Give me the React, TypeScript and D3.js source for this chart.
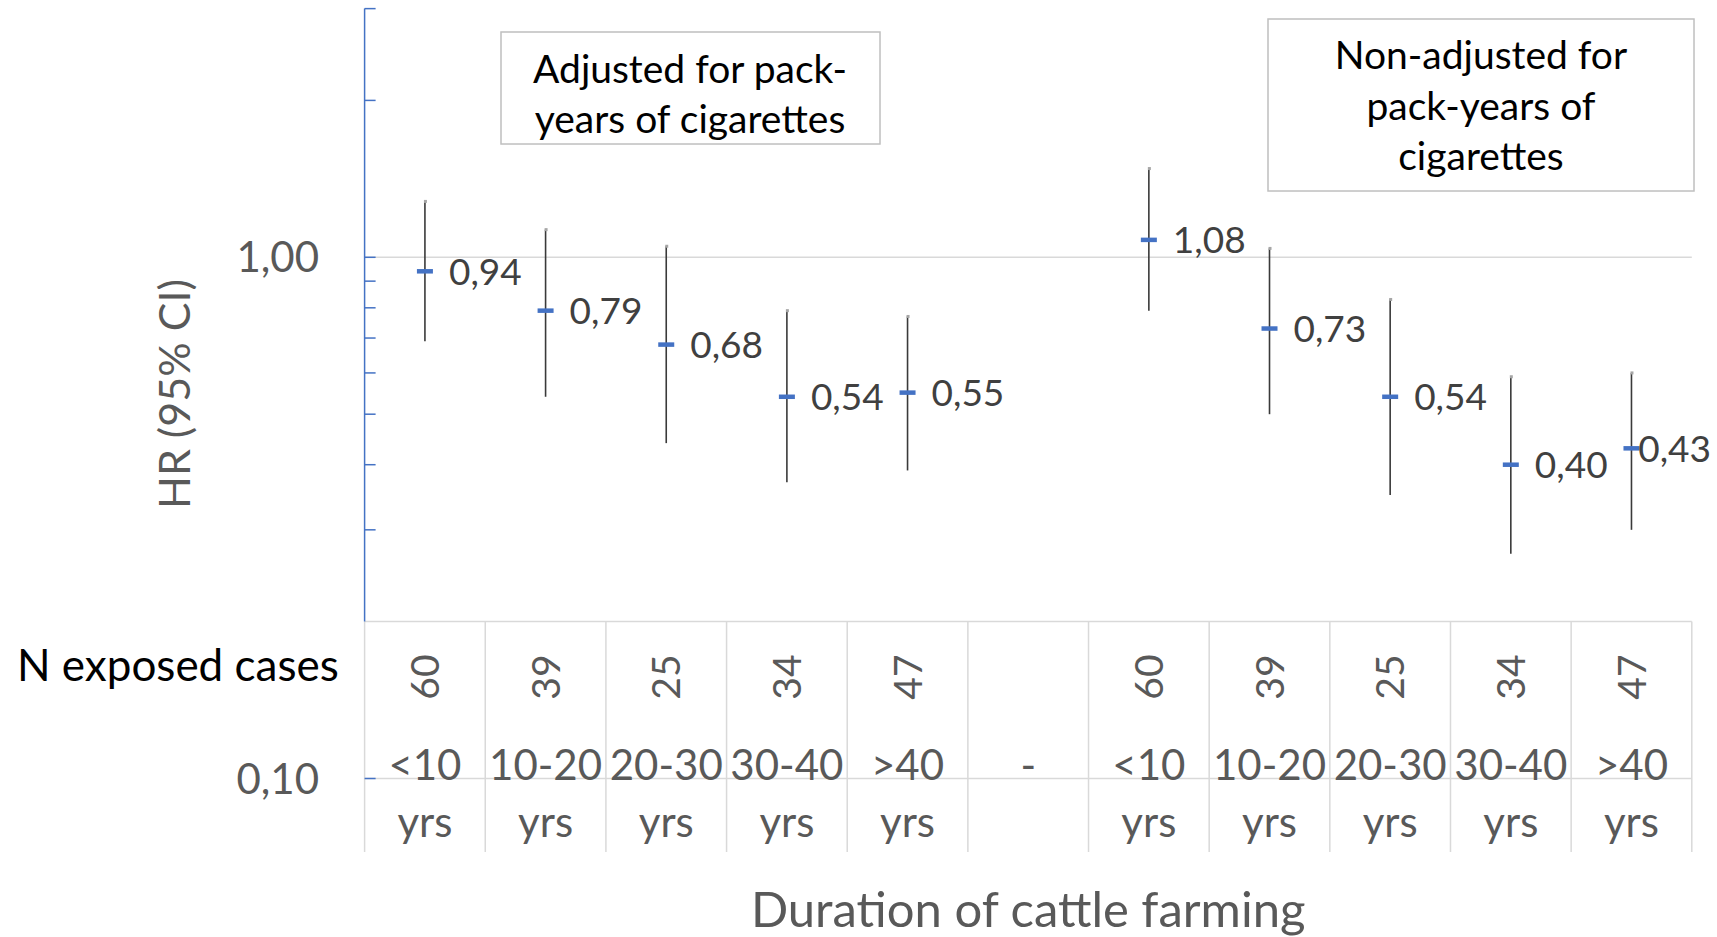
import React, { useEffect, useRef } from "react";
import * as d3 from "d3";

// categories (two-line labels) and N exposed cases per column
const topLabels = ["<10", "10-20", "20-30", "30-40", ">40", "-", "<10", "10-20", "20-30", "30-40", ">40"];
const bottomLabels = ["yrs", "yrs", "yrs", "yrs", "yrs", "", "yrs", "yrs", "yrs", "yrs", "yrs"];
const nCases = ["60", "39", "25", "34", "47", "", "60", "39", "25", "34", "47"];

// hazard ratios with 95% CI (null = spacer column)
const hr = [0.94, 0.79, 0.68, 0.54, 0.55, null, 1.08, 0.73, 0.54, 0.4, 0.43];
const ciLow = [0.69, 0.54, 0.44, 0.37, 0.39, null, 0.79, 0.5, 0.35, 0.27, 0.3];
const ciHigh = [1.28, 1.13, 1.05, 0.79, 0.77, null, 1.48, 1.04, 0.83, 0.59, 0.6];

const majorTicks = [1, 0.1];
const minorTicks = [3, 2, 1, 0.9, 0.8, 0.7, 0.6, 0.5, 0.4, 0.3, 0.1];

const boxAdjusted = ["Adjusted for pack-", "years of cigarettes"];
const boxNonAdjusted = ["Non-adjusted for", "pack-years of", "cigarettes"];

const W = 1717;
const H = 937;
const FONT = "Lato, 'Open Sans', sans-serif";

const commaFmt = d3.formatLocale({ decimal: ",", thousands: ".", grouping: [3], currency: ["", ""] }).format(".2f");

const App: React.FC = () => {
  const svgRef = useRef<SVGSVGElement>(null);

  useEffect(() => {
    document.body.style.margin = "0";
    if (!svgRef.current) return;
    const svg = d3.select(svgRef.current);
    svg.selectAll("*").remove();

    const left = 364.6;
    const right = 1691.8;

    const x = d3.scaleBand<number>()
      .domain(d3.range(topLabels.length))
      .range([left, right])
      .padding(0);
    const cx = (i: number) => (x(i) ?? 0) + x.bandwidth() / 2;

    const y = d3.scaleLog().domain([0.1, 1]).range([778.5, 257.3]);
    const tableTop = y(0.2);
    const tableBottom = 852;

    const grid = "#d9d9d9";
    const axisBlue = "#4472c4";
    const labelGray = "#595959";

    // gridline at 1,00
    svg.append("line")
      .attr("x1", left).attr("x2", right)
      .attr("y1", y(1)).attr("y2", y(1))
      .attr("stroke", grid).attr("stroke-width", 1.5);

    // table lines
    svg.append("line")
      .attr("x1", left).attr("x2", right)
      .attr("y1", tableTop).attr("y2", tableTop)
      .attr("stroke", grid).attr("stroke-width", 1.5);
    svg.append("line")
      .attr("x1", left).attr("x2", right)
      .attr("y1", y(0.1)).attr("y2", y(0.1))
      .attr("stroke", grid).attr("stroke-width", 1.5);
    const bounds = d3.range(topLabels.length + 1).map(i => left + i * x.bandwidth());
    svg.selectAll("line.vb")
      .data(bounds)
      .join("line")
      .attr("class", "vb")
      .attr("x1", d => d).attr("x2", d => d)
      .attr("y1", tableTop).attr("y2", tableBottom)
      .attr("stroke", grid).attr("stroke-width", 1.5);

    // value axis
    svg.append("line")
      .attr("x1", left).attr("x2", left)
      .attr("y1", y(3)).attr("y2", tableTop)
      .attr("stroke", axisBlue).attr("stroke-width", 1.5);
    svg.selectAll("line.mt")
      .data(minorTicks)
      .join("line")
      .attr("class", "mt")
      .attr("x1", left).attr("x2", left + 11)
      .attr("y1", d => y(d)).attr("y2", d => y(d))
      .attr("stroke", axisBlue).attr("stroke-width", 1.5);

    svg.selectAll("text.yt")
      .data(majorTicks)
      .join("text")
      .attr("class", "yt")
      .attr("x", 319)
      .attr("y", d => y(d) + 15)
      .attr("text-anchor", "end")
      .attr("fill", labelGray)
      .style("font-family", FONT)
      .style("font-size", "42px")
      .text(d => commaFmt(d));

    // axis titles
    svg.append("text")
      .attr("transform", "translate(175,394) rotate(-90)")
      .attr("text-anchor", "middle")
      .attr("dy", "0.35em")
      .attr("fill", labelGray)
      .style("font-family", FONT)
      .style("font-size", "43px")
      .text("HR (95% CI)");

    svg.append("text")
      .attr("x", (left + right) / 2)
      .attr("y", 927)
      .attr("text-anchor", "middle")
      .attr("fill", labelGray)
      .style("font-family", FONT)
      .style("font-size", "49px")
      .text("Duration of cattle farming");

    svg.append("text")
      .attr("x", 17)
      .attr("y", 681)
      .attr("fill", "#000")
      .style("font-family", FONT)
      .style("font-size", "44px")
      .text("N exposed cases");

    // table content
    svg.selectAll("text.n")
      .data(nCases)
      .join("text")
      .attr("class", "n")
      .attr("transform", (_, i) => `translate(${cx(i)},677) rotate(-90)`)
      .attr("text-anchor", "middle")
      .attr("dy", "0.36em")
      .attr("fill", labelGray)
      .style("font-family", FONT)
      .style("font-size", "39px")
      .text(d => d);

    svg.selectAll("text.c1")
      .data(topLabels)
      .join("text")
      .attr("class", "c1")
      .attr("x", (_, i) => cx(i))
      .attr("y", 780)
      .attr("text-anchor", "middle")
      .attr("fill", labelGray)
      .style("font-family", FONT)
      .style("font-size", "42px")
      .text(d => d);

    svg.selectAll("text.c2")
      .data(bottomLabels)
      .join("text")
      .attr("class", "c2")
      .attr("x", (_, i) => cx(i))
      .attr("y", 837)
      .attr("text-anchor", "middle")
      .attr("fill", labelGray)
      .style("font-family", FONT)
      .style("font-size", "42px")
      .text(d => d);

    // error bars
    const pts = hr.map((v, i) => ({ i, v, lo: ciLow[i], hi: ciHigh[i] })).filter(d => d.v !== null) as
      { i: number; v: number; lo: number; hi: number }[];

    svg.selectAll("line.ci")
      .data(pts)
      .join("line")
      .attr("class", "ci")
      .attr("x1", d => cx(d.i)).attr("x2", d => cx(d.i))
      .attr("y1", d => y(d.hi)).attr("y2", d => y(d.lo))
      .attr("stroke", "#3a3a3a").attr("stroke-width", 1.6);

    svg.selectAll("rect.cap")
      .data(pts)
      .join("rect")
      .attr("class", "cap")
      .attr("x", d => cx(d.i) - 1)
      .attr("y", d => y(d.hi) - 1.5)
      .attr("width", 3).attr("height", 3)
      .attr("fill", "#a6a6a6");

    svg.selectAll("rect.pt")
      .data(pts)
      .join("rect")
      .attr("class", "pt")
      .attr("x", d => cx(d.i) - 8)
      .attr("y", d => y(d.v) - 2.25)
      .attr("width", 16).attr("height", 4.5)
      .attr("fill", axisBlue);

    const labels = svg.selectAll<SVGTextElement, typeof pts[0]>("text.dl")
      .data(pts)
      .join("text")
      .attr("class", "dl")
      .attr("x", d => cx(d.i) + 24)
      .attr("y", d => y(d.v))
      .attr("dy", "0.36em")
      .attr("fill", "#404040")
      .style("font-family", FONT)
      .style("font-size", "37px")
      .text(d => commaFmt(d.v));
    labels.each(function (d) {
      const w = this.getComputedTextLength();
      const xl = cx(d.i) + 24;
      if (xl + w > W - 6) d3.select(this).attr("x", W - 6 - w);
    });

    // annotation boxes
    const drawBox = (lines: string[], bx: number, by: number, bw: number, bh: number, tx: number, firstBase: number, step: number) => {
      svg.append("rect")
        .attr("x", bx).attr("y", by)
        .attr("width", bw).attr("height", bh)
        .attr("fill", "#fff")
        .attr("stroke", "#bfbfbf").attr("stroke-width", 1.5);
      svg.selectAll(null)
        .data(lines)
        .join("text")
        .attr("x", tx)
        .attr("y", (_, i) => firstBase + i * step)
        .attr("text-anchor", "middle")
        .attr("fill", "#000")
        .style("font-family", FONT)
        .style("font-size", "39px")
        .text(d => d);
    };
    drawBox(boxAdjusted, 501, 32, 379, 112, 690, 83, 50);
    drawBox(boxNonAdjusted, 1268, 19, 426, 172, 1481, 69, 50.6);
  }, []);

  return (
    <svg
      ref={svgRef}
      width={W}
      height={H}
      viewBox={`0 0 ${W} ${H}`}
      style={{ display: "block", background: "#fff" }}
    />
  );
};

export default App;
